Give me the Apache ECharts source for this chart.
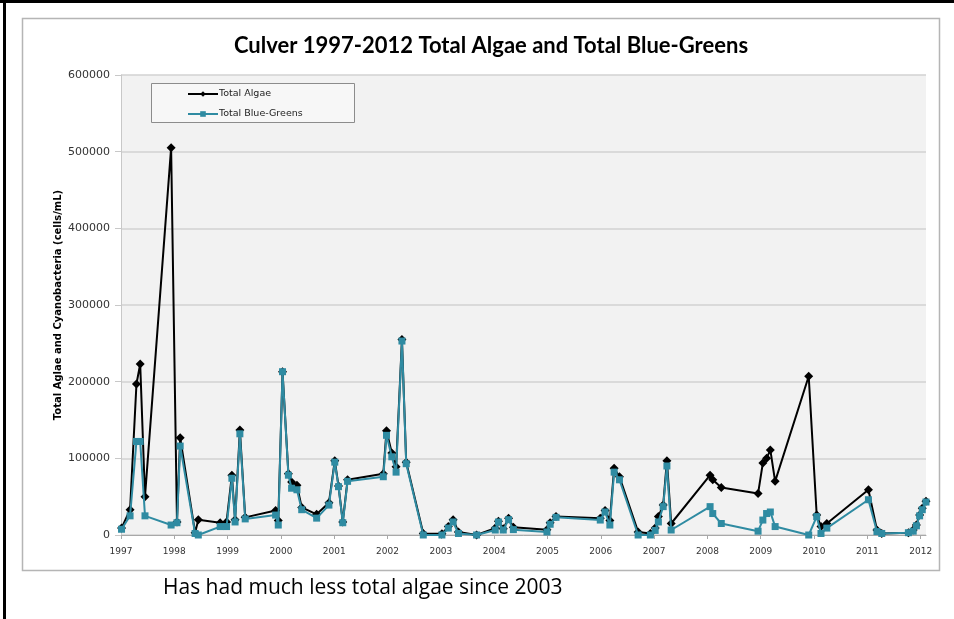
<!DOCTYPE html>
<html>
<head>
<meta charset="utf-8">
<script src="https://cdn.jsdelivr.net/npm/echarts@6/dist/echarts.min.js"></script>
<style>
  html, body { margin: 0; padding: 0; background: #fff; }
  #chart { width: 954px; height: 619px; }
</style>
</head>
<body>
<div id="chart"></div>
<script>
// Sampling dates (decimal years) shared by both series
const sampleDates = [
  1997.01, 1997.17, 1997.29, 1997.36, 1997.45, 1997.94, 1998.05, 1998.11,
  1998.39, 1998.45, 1998.86, 1998.98, 1999.08, 1999.14, 1999.23, 1999.33,
  1999.90, 1999.95, 2000.03, 2000.14, 2000.20, 2000.30, 2000.39, 2000.67,
  2000.90, 2001.01, 2001.08, 2001.16, 2001.25, 2001.92, 2001.98, 2002.08,
  2002.16, 2002.27, 2002.35, 2002.67, 2003.02, 2003.14, 2003.23, 2003.33,
  2003.67, 2004.02, 2004.08, 2004.17, 2004.27, 2004.36, 2004.99, 2005.05,
  2005.16, 2005.99, 2006.08, 2006.17, 2006.25, 2006.35, 2006.70, 2006.93,
  2007.02, 2007.08, 2007.17, 2007.24, 2007.32, 2008.05, 2008.10, 2008.26,
  2008.95, 2009.04, 2009.11, 2009.18, 2009.27, 2009.90, 2010.05, 2010.13,
  2010.24, 2011.02, 2011.18, 2011.27, 2011.77, 2011.86, 2011.92, 2011.98,
  2012.03, 2012.10
];

// Total algae (cells/mL)
const totalAlgae = [
  9000, 33000, 197000, 223000, 50000, 505000, 17000, 127000,
  3000, 20000, 16000, 17000, 78000, 20000, 137000, 23000,
  32000, 19000, 213000, 80000, 69000, 65000, 36000, 27000,
  42000, 97000, 64000, 17000, 72000, 80000, 136000, 107000,
  89000, 255000, 95000, 2000, 1500, 11000, 20000, 4000,
  0, 9000, 18000, 8000, 22000, 10000, 7000, 16000,
  24000, 22000, 32000, 19000, 87000, 76000, 4000, 2000,
  9000, 24000, 39000, 97000, 15000, 78000, 72000, 62000,
  54000, 94000, 100000, 111000, 70000, 207000, 26000, 11000,
  15000, 59000, 6500, 2000, 3000, 6500, 13000, 26000,
  35000, 44000
];

// Total blue-greens (cells/mL)
const totalBlueGreens = [
  7500, 25000, 122000, 122000, 25000, 13000, 16000, 116000,
  2000, 0, 11000, 11000, 74000, 17000, 132000, 21000,
  26000, 13000, 213000, 78000, 61000, 59000, 33000, 22000,
  39000, 95000, 63000, 16000, 70000, 76000, 130000, 102000,
  82000, 253000, 93000, 0, 0, 9000, 17000, 2000,
  0, 6500, 17000, 6500, 20000, 7000, 4000, 14000,
  23000, 19500, 30000, 13000, 82000, 72000, 0, 0,
  6000, 17000, 37000, 90000, 6500, 37000, 28000, 15000,
  5000, 19500, 28000, 30000, 11000, 0, 24000, 2000,
  9000, 46000, 4500, 2000, 3000, 5000, 12000, 25000,
  33000, 43000
];

// Year ticks along the bottom axis
const yearTicks = [1997, 1998, 1999, 2000, 2001, 2002, 2003, 2004, 2005,
                   2006, 2007, 2008, 2009, 2010, 2011, 2012];

const seriesNames = ['Total Algae', 'Total Blue-Greens'];

const TITLE_FONT = 'Lato, "Open Sans", sans-serif';
const SMALL_FONT = '"DejaVu Sans", "Noto Sans", sans-serif';
const BLUE = '#2f8ba2';

const algaePairs = sampleDates.map((d, i) => [d, totalAlgae[i]]);
const bluePairs = sampleDates.map((d, i) => [d, totalBlueGreens[i]]);

const chart = echarts.init(document.getElementById('chart'), null, { renderer: 'canvas' });

chart.setOption({
  animation: false,
  backgroundColor: '#ffffff',
  title: {
    text: 'Culver 1997-2012 Total Algae and Total Blue-Greens',
    left: 486,
    top: 30,
    textAlign: 'center',
    textStyle: { fontFamily: TITLE_FONT, fontSize: 22, fontWeight: 'bold', color: '#000' }
  },
  graphic: [
    // outer frame lines
    { type: 'rect', z: 100, shape: { x: 0, y: 0, width: 954, height: 3 }, style: { fill: '#000' } },
    { type: 'rect', z: 100, shape: { x: 3, y: 0, width: 3, height: 619 }, style: { fill: '#000' } },
    // chart box
    { type: 'rect', z: -10, shape: { x: 22.5, y: 18.5, width: 917, height: 552 },
      style: { fill: 'none', stroke: '#b5b5b5', lineWidth: 1.5 } },
    // legend box
    { type: 'rect', z: 5, shape: { x: 151.5, y: 83.5, width: 203, height: 39 },
      style: { fill: '#f7f7f7', stroke: '#8c8c8c', lineWidth: 1 } },
    // caption below the chart
    { type: 'text', left: 163, top: 578,
      style: { text: 'Has had much less total algae since 2003', fontFamily: '"Open Sans", sans-serif',
               fontSize: 21, fill: '#000' } }
  ],
  legend: {
    data: seriesNames,
    orient: 'vertical',
    left: 187,
    top: 89,
    padding: 0,
    itemGap: 10,
    itemWidth: 30,
    itemHeight: 7,
    z: 6,
    textStyle: { fontFamily: SMALL_FONT, fontSize: 9.5, color: '#222', padding: [0, 0, 0, -4] }
  },
  grid: {
    left: 121, right: 28, top: 75, bottom: 84,
    show: true, backgroundColor: '#f2f2f2', borderWidth: 0
  },
  xAxis: {
    type: 'value',
    min: 1997,
    max: 2012.1,
    interval: 1,
    axisLine: { show: true, lineStyle: { color: '#a8a8a8', width: 1 } },
    axisTick: { show: true, customValues: yearTicks, length: 4, lineStyle: { color: '#a8a8a8' } },
    axisLabel: { customValues: yearTicks, fontFamily: SMALL_FONT, fontSize: 9, color: '#333', margin: 12,
                 formatter: v => String(v) },
    splitLine: { show: false }
  },
  yAxis: {
    type: 'value',
    min: 0,
    max: 600000,
    interval: 100000,
    name: 'Total Aglae and Cyanobacteria (cells/mL)',
    nameLocation: 'middle',
    nameGap: 58,
    nameMoveOverlap: false,
    nameTextStyle: { fontFamily: SMALL_FONT, fontSize: 10, fontWeight: 'bold', color: '#000' },
    axisLine: { show: true, lineStyle: { color: '#c8c8c8', width: 1 } },
    axisTick: { show: true, length: 6, inside: false, lineStyle: { color: '#c8c8c8' } },
    axisLabel: { fontFamily: SMALL_FONT, fontSize: 11, color: '#333', margin: 11,
                 formatter: v => String(v) },
    splitLine: { show: true, lineStyle: { color: '#d2d2d2', width: 1.5 } }
  },
  series: [
    {
      name: seriesNames[0],
      type: 'line',
      data: algaePairs,
      symbol: 'diamond',
      symbolSize: 9,
      lineStyle: { color: '#000', width: 2 },
      itemStyle: { color: '#000' },
      z: 2
    },
    {
      name: seriesNames[1],
      type: 'line',
      data: bluePairs,
      symbol: 'rect',
      symbolSize: 7,
      lineStyle: { color: BLUE, width: 2 },
      itemStyle: { color: BLUE },
      z: 3
    }
  ]
});
</script>
</body>
</html>
